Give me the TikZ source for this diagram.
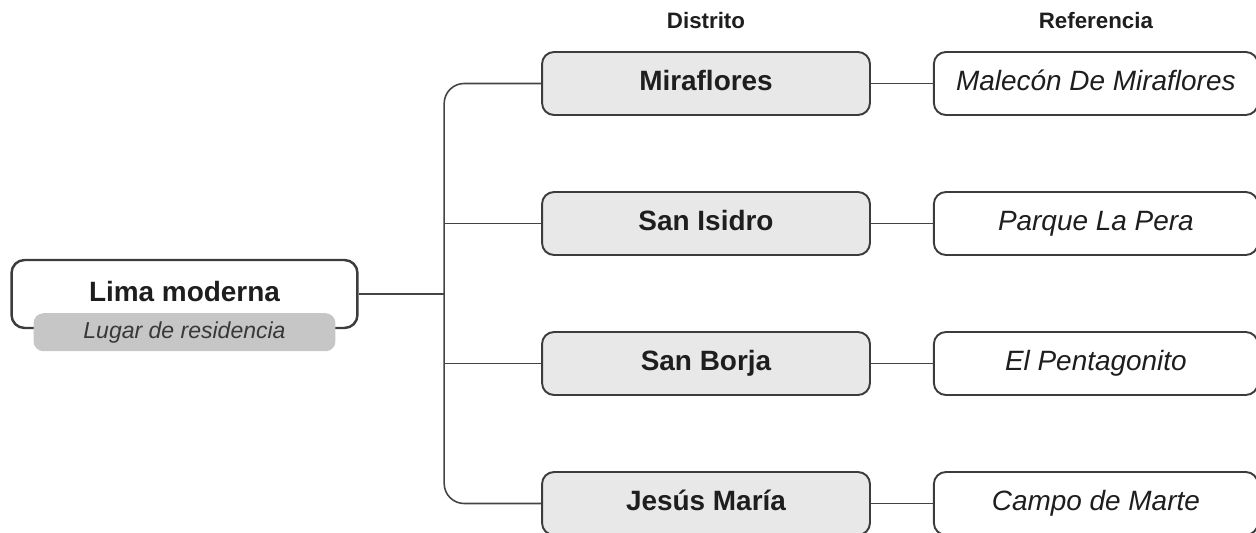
\documentclass[tikz,border=0pt]{standalone}
\usepackage{fontspec}
\setmainfont{Liberation Sans}
\usepackage{tikz}
\usetikzlibrary{positioning}
\definecolor{ink}{HTML}{1E1E1E}
\definecolor{boxline}{HTML}{3C3C3C}
\definecolor{linkcol}{HTML}{444444}
\definecolor{distfill}{HTML}{E8E8E8}
\definecolor{subfill}{HTML}{C6C6C6}
\definecolor{subink}{HTML}{383838}
\newcommand{\mainsize}{\fontsize{15.9}{19}\selectfont}
\newcommand{\subsize}{\fontsize{13.1}{16}\selectfont}
\newcommand{\headsize}{\fontsize{12.7}{15}\selectfont}

\begin{document}
\begin{tikzpicture}[x=0.02cm, y=-0.02cm,
  distbox/.style={draw=boxline, line width=1.1pt, fill=distfill, rounded corners=0.24cm,
    minimum width=6.56cm, minimum height=1.26cm, inner sep=0pt, text height=11pt, text depth=3pt,
    font=\mainsize\bfseries, text=ink},
  refbox/.style={draw=boxline, line width=1.1pt, fill=white, rounded corners=0.24cm,
    minimum width=6.48cm, minimum height=1.26cm, inner sep=0pt, text height=11pt, text depth=3pt,
    font=\mainsize\itshape, text=ink},
  link/.style={draw=linkcol, line width=0.9pt},
  head/.style={font=\headsize\bfseries, text=ink, inner sep=0pt}]
\useasboundingbox (0,0) rectangle (1256,533);
\clip (0,0) rectangle (1256,533);
%%% The root node with its tag underneath
\node[draw=boxline, line width=1.4pt, rounded corners=0.26cm, minimum width=6.92cm,
  minimum height=1.36cm, inner sep=0pt, text height=11pt, text depth=3pt,
  font=\mainsize\bfseries, text=ink] (lima) at (184.5,294) {Lima moderna};
\node[fill=subfill, rounded corners=0.2cm, minimum width=6.04cm, minimum height=0.76cm,
  inner sep=0pt, text height=9pt, text depth=2.2pt, font=\subsize\itshape, text=subink]
  (lugar) at ([yshift=-0.06cm]lima.south) {Lugar de residencia};
%%%%%% The districts
\node[distbox] (mira) at (706,83.5) {Miraflores};
\node[distbox] (isidro) at (706,223.5) {San Isidro};
\node[distbox] (borja) at (706,363.5) {San Borja};
\node[distbox] (jesus) at (706,503.5) {Jesús María};
%%%%%% The places of reference
\node[refbox, right=1.24cm of mira] (malecon) {Malecón De Miraflores};
\node[refbox, right=1.24cm of isidro] (pera) {Parque La Pera};
\node[refbox, right=1.24cm of borja] (penta) {El Pentagonito};
\node[refbox, right=1.24cm of jesus] (marte) {Campo de Marte};
%%%%%% Column headers
\node[head, above=0.44cm of mira] (distrito) {Distrito};
\node[head, above=0.44cm of malecon] (referencia) {Referencia};
%%%%%% The edges from the root to the districts
\coordinate (fork) at ([xshift=1.71cm]lima.east);
\draw[link] (lima.east) -- (fork);
\draw[link, rounded corners=0.4cm] (fork) |- (mira.west);
\draw[link, rounded corners=0.4cm] (fork) |- (jesus.west);
\draw[link] (isidro.west -| fork) -- (isidro.west);
\draw[link] (borja.west -| fork) -- (borja.west);
%%%%%% The edges from the districts to the places
\draw[link] (mira) -- (malecon);
\draw[link] (isidro) -- (pera);
\draw[link] (borja) -- (penta);
\draw[link] (jesus) -- (marte);
\end{tikzpicture}
\end{document}
